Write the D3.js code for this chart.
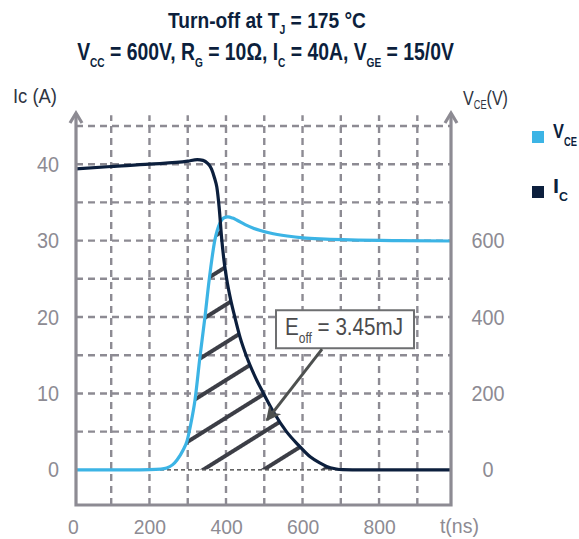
<!DOCTYPE html>
<html>
<head>
<meta charset="utf-8">
<script src="https://cdn.jsdelivr.net/npm/d3@7"></script>
<style>
    body { margin: 0; background: #fff; }
    text { font-family: "Liberation Sans", Arial, sans-serif; }
</style>
</head>
<body>
<svg id="chart" width="579" height="539"></svg>
<script>
    // collector current
    const icTime = [8, 100, 200, 300, 325, 340, 352, 362, 370, 376, 382, 389, 395, 402, 412, 423, 437, 454, 475, 497, 525, 558, 590, 620, 645, 663, 685, 705, 730, 988]
    const icAmps = [39.4, 39.7, 40.0, 40.4, 40.6, 40.5, 40.1, 39.4, 38.2, 37.0, 34.4, 30.1, 27.3, 24.9, 22.3, 20.0, 17.3, 14.8, 12.3, 10.1, 7.5, 5.0, 3.2, 1.7, 0.9, 0.45, 0.15, 0.02, 0, 0]

    // collector-emitter voltage
    const vceTime = [8, 150, 200, 230, 245, 260, 272, 288, 298, 308, 319, 332, 345, 356, 371, 384, 395, 405, 417, 428, 450, 470, 515, 560, 601, 660, 724, 850, 988]
    const vceVolts = [0, 0, 0.5, 2, 5, 13, 26, 52, 75, 120, 183, 296, 400, 497, 602, 646, 660, 662, 659, 654, 642, 633, 620, 612, 607, 604, 602, 600, 599]

    const xTicks = [0, 200, 400, 600, 800]
    const leftTicks = [0, 10, 20, 30, 40]
    const rightTicks = [0, 200, 400, 600]
    const xGrid = [100, 200, 300, 400, 500, 600, 700, 800, 900]
    const yGrid = [5, 10, 15, 20, 25, 30, 35, 40, 45]

    const legendNames = ["V", "I"]
    const legendSubs = ["CE", "C"]

    const blue = "#3cb4e5"
    const navy = "#0c1f3d"
    const gray = "#8d8b93"

    const svg = d3.select("#chart")

    // the original uses a condensed face: squeeze text horizontally
    const fit = (sel, w) => sel.attr("textLength", w).attr("lengthAdjust", "spacingAndGlyphs")
    const squeeze = (sel, k) => sel.each(function () {
        d3.select(this).call(fit, this.getComputedTextLength() * k)
    })
    // texts with sub/superscripts: build at the origin, then scale the group
    const condensed = (parent, px, py, w, anchor, build) => {
        const g = parent.append("g")
        const t = g.append("text").attr("text-anchor", anchor)
        build(t)
        const k = w / t.node().getComputedTextLength()
        g.attr("transform", `translate(${px},${py}) scale(${k},1)`)
        return t
    }

    const tMin = 8, tMax = 988
    const iMin = -4.6, iMax = 46.7
    const x = d3.scaleLinear().domain([tMin, tMax]).range([76, 451])
    const y = d3.scaleLinear().domain([iMin, iMax]).range([505, 113])
    const yV = d3.scaleLinear().domain([iMin * 20, iMax * 20]).range([505, 113])

    const defs = svg.append("defs")

    // title
    condensed(svg, 267, 28, 198, "middle", t => {
        t.attr("font-size", 22).attr("font-weight", "bold").attr("fill", navy)
        t.append("tspan").text("Turn-off at T")
        t.append("tspan").text("J").attr("font-size", 12).attr("dy", 6)
        t.append("tspan").text(" = 175 °C").attr("dy", -6)
    })

    const parts = [["V", "CC"], [" = 600V, R", "G"], [" = 10Ω,  I", "C"], [" = 40A, V", "GE"], [" = 15/0V", null]]
    condensed(svg, 265.5, 60, 377, "middle", t => {
        t.attr("font-size", 23).attr("font-weight", "bold").attr("fill", navy)
        parts.forEach(([main, s], i) => {
            t.append("tspan").text(main).attr("dy", i ? -7 : 0)
            if (s) t.append("tspan").text(s).attr("font-size", 12).attr("dy", 7)
        })
    })

    // grid
    svg.append("g")
        .selectAll("line")
        .data(xGrid)
        .join("line")
        .attr("x1", d => x(d)).attr("x2", d => x(d))
        .attr("y1", y(iMin)).attr("y2", y(46.4))
        .attr("stroke", gray).attr("stroke-width", 2.4)
        .attr("stroke-dasharray", "7 5")

    svg.append("g")
        .selectAll("line")
        .data(yGrid)
        .join("line")
        .attr("x1", x(tMin)).attr("x2", x(tMax))
        .attr("y1", d => y(d)).attr("y2", d => y(d))
        .attr("stroke", gray).attr("stroke-width", 2.4)
        .attr("stroke-dasharray", "7 5")

    svg.append("line")
        .attr("x1", x(tMin)).attr("x2", x(tMax))
        .attr("y1", y(0)).attr("y2", y(0))
        .attr("stroke", "#333").attr("stroke-width", 1.2)
        .attr("stroke-dasharray", "4 3")

    // hatched energy area = under both curves
    const hatch = defs.append("pattern")
        .attr("id", "hatch")
        .attr("patternUnits", "userSpaceOnUse")
        .attr("width", 40).attr("height", 32)
        .attr("patternTransform", `translate(${x(340)},${y(0)}) rotate(-32) translate(0,-16)`)
    hatch.append("rect")
        .attr("x", 0).attr("y", 14).attr("width", 40).attr("height", 4)
        .attr("fill", "#3c3e46")

    const icData = icTime.map((t, i) => ({ t: t, v: icAmps[i] }))
    const vceData = vceTime.map((t, i) => ({ t: t, v: vceVolts[i] }))

    defs.append("clipPath").attr("id", "clipV")
        .append("path")
        .attr("d", d3.area().x(d => x(d.t)).y0(y(0)).y1(d => yV(d.v)).curve(d3.curveMonotoneX)(vceData))
    defs.append("clipPath").attr("id", "clipI")
        .append("path")
        .attr("d", d3.area().x(d => x(d.t)).y0(y(0)).y1(d => y(d.v)).curve(d3.curveMonotoneX)(icData))

    svg.append("g").attr("clip-path", "url(#clipV)")
        .append("g").attr("clip-path", "url(#clipI)")
        .append("rect")
        .attr("x", x(tMin)).attr("y", y(iMax))
        .attr("width", x(tMax) - x(tMin)).attr("height", y(0) - y(iMax))
        .attr("fill", "url(#hatch)")

    // curves
    svg.append("path")
        .datum(vceData)
        .attr("fill", "none").attr("stroke", blue).attr("stroke-width", 3.2)
        .attr("stroke-linejoin", "round")
        .attr("d", d3.line().x(d => x(d.t)).y(d => yV(d.v)).curve(d3.curveMonotoneX))

    svg.append("path")
        .datum(icData)
        .attr("fill", "none").attr("stroke", navy).attr("stroke-width", 3.2)
        .attr("stroke-linejoin", "round")
        .attr("d", d3.line().x(d => x(d.t)).y(d => y(d.v)).curve(d3.curveMonotoneX))

    // axes frame with arrow heads
    const frame = svg.append("g")
        .attr("fill", "none").attr("stroke", gray).attr("stroke-width", 3.2)
    frame.append("path")
        .attr("d", `M${x(tMin)},${y(iMax)} V${y(iMin)} H${x(tMax)} V${y(iMax)}`)
    ;[tMin, tMax].forEach(t => {
        frame.append("path")
            .attr("d", `M${x(t) - 6},${y(iMax) + 10} L${x(t)},${y(iMax)} L${x(t) + 6},${y(iMax) + 10}`)
    })

    // tick labels
    const styleTicks = g => {
        g.select(".domain").remove()
        g.selectAll("text")
            .attr("font-size", 22).attr("fill", gray)
            .style("font-family", "'Liberation Sans', Arial, sans-serif")
            .call(squeeze, 0.9)
    }

    svg.append("g")
        .attr("transform", `translate(${x(tMin)},0)`)
        .call(d3.axisLeft(y).tickValues(leftTicks).tickSize(0).tickPadding(17).tickFormat(d3.format("d")))
        .call(styleTicks)

    svg.append("g")
        .attr("transform", `translate(${x(tMax) + 37},0)`)
        .call(d3.axisRight(yV).tickValues(rightTicks).tickSize(0).tickPadding(0).tickFormat(d3.format("d")))
        .call(styleTicks)
        .selectAll("text").attr("text-anchor", "middle")

    const xScaleTicks = d3.scaleLinear().domain([0, 1000]).range([x(0), x(1000)])
    const bottom = svg.append("g")
        .attr("transform", `translate(0,${y(iMin)})`)
        .call(d3.axisBottom(xScaleTicks).tickValues(xTicks).tickSize(0).tickPadding(14).tickFormat(d3.format("d")))
    bottom.select(".domain").remove()
    bottom.selectAll("text")
        .attr("font-size", 21).attr("fill", gray)
        .style("font-family", "'Liberation Sans', Arial, sans-serif")
        .call(squeeze, 0.92)

    svg.append("text")
        .attr("x", x(1010)).attr("y", 533)
        .attr("text-anchor", "middle")
        .attr("font-size", 21).attr("fill", gray)
        .text("t(ns)")
        .call(fit, 39)

    // axis titles
    svg.append("text")
        .attr("x", 13).attr("y", 103)
        .attr("font-size", 21).attr("fill", "#2f3542")
        .text("Ic (A)")
        .call(fit, 44)

    condensed(svg, 463, 105, 45, "start", t => {
        t.attr("font-size", 21).attr("fill", "#2f3542")
        t.append("tspan").text("V")
        t.append("tspan").text("CE").attr("font-size", 12).attr("dy", 4)
        t.append("tspan").text("(V)").attr("dy", -4)
    })

    // annotation
    const ann = svg.append("g")
    const boxW = 138, boxH = 38
    ann.append("rect")
        .attr("x", x(711) - boxW / 2).attr("y", y(18.4) - boxH / 2)
        .attr("width", boxW).attr("height", boxH)
        .attr("fill", "#fff").attr("stroke", "#6e6f71").attr("stroke-width", 2)
    condensed(ann, x(711) - boxW / 2 + 9, y(18.4) + 6, 118, "start", t => {
        t.attr("font-size", 24).attr("fill", "#4b4b4d")
        t.append("tspan").text("E")
        t.append("tspan").text("off").attr("font-size", 14).attr("dy", 8)
        t.append("tspan").text(" = 3.45mJ").attr("dy", -8)
    })

    defs.append("marker")
        .attr("id", "head")
        .attr("viewBox", "0 0 10 10")
        .attr("refX", 9).attr("refY", 5)
        .attr("markerWidth", 5).attr("markerHeight", 5)
        .attr("markerUnits", "strokeWidth")
        .attr("orient", "auto")
        .append("path")
        .attr("d", "M0,0 L10,5 L0,10 L3,5 Z")
        .attr("fill", "#4d504f")

    ann.append("line")
        .attr("x1", x(651)).attr("y1", y(15.8))
        .attr("x2", x(507)).attr("y2", y(6.5))
        .attr("stroke", "#4d504f").attr("stroke-width", 3)
        .attr("marker-end", "url(#head)")

    // legend
    const legend = svg.append("g")
        .selectAll("g")
        .data(legendNames)
        .join("g")
        .attr("transform", (d, i) => `translate(532,${131 + i * 55})`)
    legend.append("rect")
        .attr("width", 12).attr("height", 12)
        .attr("fill", (d, i) => i ? navy : blue)
    legend.each(function (d, i) {
        condensed(d3.select(this), 21, 7, i ? 15 : 24, "start", t => {
            t.attr("font-size", 21).attr("font-weight", "bold").attr("fill", navy)
            t.append("tspan").text(d)
            t.append("tspan").text(legendSubs[i]).attr("font-size", 12).attr("dy", 8)
        })
    })
</script>
</body>
</html>
